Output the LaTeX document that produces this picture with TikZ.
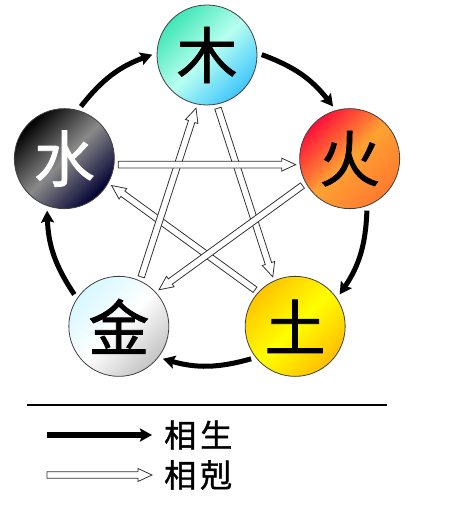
\documentclass[tikz,border=0pt]{standalone}
\usepackage{fontspec}
\newfontfamily\cjk{Noto Sans CJK SC}[FakeBold=1.2]
\usetikzlibrary{positioning,arrows.meta,calc}

\definecolor{woodA}{HTML}{40E6B6}
\definecolor{woodB}{HTML}{B8FFF0}
\definecolor{woodC}{HTML}{40C6FF}
\definecolor{fireA}{HTML}{FF1038}
\definecolor{fireB}{HTML}{FFA232}
\definecolor{fireC}{HTML}{FF7A30}
\definecolor{earthA}{HTML}{FFC400}
\definecolor{earthB}{HTML}{FFFF00}
\definecolor{earthC}{HTML}{FFBE00}
\definecolor{metalA}{HTML}{D6F8FF}
\definecolor{metalB}{HTML}{FFFFFF}
\definecolor{metalC}{HTML}{C4C4C4}
\definecolor{waterA}{HTML}{000000}
\definecolor{waterB}{HTML}{8A8A8A}
\definecolor{waterC}{HTML}{000033}

\pgfdeclarehorizontalshading{woodgrad}{100bp}{color(0bp)=(woodA); color(25bp)=(woodA);
  color(50bp)=(woodB); color(75bp)=(woodC); color(100bp)=(woodC)}
\pgfdeclarehorizontalshading{firegrad}{100bp}{color(0bp)=(fireA); color(25bp)=(fireA);
  color(50bp)=(fireB); color(75bp)=(fireC); color(100bp)=(fireC)}
\pgfdeclarehorizontalshading{earthgrad}{100bp}{color(0bp)=(earthA); color(25bp)=(earthA);
  color(50bp)=(earthB); color(75bp)=(earthC); color(100bp)=(earthC)}
\pgfdeclarehorizontalshading{metalgrad}{100bp}{color(0bp)=(metalA); color(25bp)=(metalA);
  color(50bp)=(metalB); color(75bp)=(metalC); color(100bp)=(metalC)}
\pgfdeclarehorizontalshading{watergrad}{100bp}{color(0bp)=(waterA); color(25bp)=(waterA);
  color(50bp)=(waterB); color(75bp)=(waterC); color(100bp)=(waterC)}

% hollow arrow between two points, and between two elements
\newcommand\kepoly[2]{%
  \coordinate (kh) at ($(#2)!14pt!(#1)$);
  \draw[ke] ($(#1)!3.3pt!90:(#2)$) -- ($(kh)!3.3pt!90:(#2)$) -- ($(kh)!6.5pt!90:(#2)$)
    -- (#2) -- ($(kh)!6.5pt!-90:(#2)$) -- ($(kh)!3.3pt!-90:(#2)$) -- ($(#1)!3.3pt!-90:(#2)$) -- cycle;}
\newcommand\kearrow[2]{%
  \coordinate (#1#2a) at ($(#1)!6pt!-90:(#2)$);
  \coordinate (#1#2b) at ($(#2)!6pt!90:(#1)$);
  \coordinate (#1#2s) at ($(#1#2a)!54pt!(#1#2b)$);
  \coordinate (#1#2e) at ($(#1#2b)!54pt!(#1#2a)$);
  \kepoly{#1#2s}{#1#2e}}

\begin{document}
\begin{tikzpicture}[
  elem/.style={circle,draw=black!75,line width=0.8pt,minimum size=100pt,inner sep=0pt,
    shade,shading angle=-45,font=\cjk\fontsize{61}{61}\selectfont},
  sheng/.style={line width=5pt,-{Stealth[length=12pt,width=13pt,inset=2pt]}},
  ke/.style={draw=black!80,line width=0.8pt,fill=white,line join=miter},
  legtxt/.style={inner sep=0pt,font=\cjk\fontsize{32}{32}\selectfont},
]
  \useasboundingbox (0pt,0pt) rectangle (469pt,516pt);
  \coordinate (c) at (207pt,311pt);
  \node[elem,shading=woodgrad] (mu) at ($(c)+(90:150pt)$) {木};
  \node[elem,shading=firegrad] (huo) at ($(c)+(18:150pt)$) {火};
  \node[elem,shading=earthgrad] (tu) at ($(c)+(-54:150pt)$) {土};
  \node[elem,shading=metalgrad] (jin) at ($(c)+(-126:150pt)$) {金};
  \node[elem,shading=watergrad,text=white] (shui) at ($(c)+(162:150pt)$) {水};
  % generating cycle
  \draw[sheng] ($(c)!160pt!-20:(mu)$) to[bend left=16] ($(c)!160pt!20:(huo)$);
  \draw[sheng] ($(c)!160pt!-20:(huo)$) to[bend left=16] ($(c)!160pt!20:(tu)$);
  \draw[sheng] ($(c)!160pt!-20:(tu)$) to[bend left=16] ($(c)!160pt!20:(jin)$);
  \draw[sheng] ($(c)!160pt!-20:(jin)$) to[bend left=16] ($(c)!160pt!20:(shui)$);
  \draw[sheng] ($(c)!160pt!-20:(shui)$) to[bend left=16] ($(c)!160pt!20:(mu)$);
  % overcoming cycle
  \kearrow{mu}{tu}
  \kearrow{tu}{shui}
  \kearrow{huo}{jin}
  \kearrow{jin}{mu}
  \kearrow{shui}{huo}
  % legend
  \draw[line width=1.3pt] (27pt,111pt) -- (387pt,111pt);
  \coordinate (l1a) at (47pt,81pt);
  \coordinate (l1b) at (152pt,81pt);
  \draw[sheng,line width=5.5pt] (l1a) -- (l1b);
  \node[legtxt,right=12pt of l1b] (lsheng) {相\hspace{4pt}生};
  \coordinate (l2a) at (47pt,41pt);
  \coordinate (l2b) at (152pt,41pt);
  \kepoly{l2a}{l2b}
  \node[legtxt,right=12pt of l2b] (lke) {相\hspace{4pt}剋};
\end{tikzpicture}
\end{document}
